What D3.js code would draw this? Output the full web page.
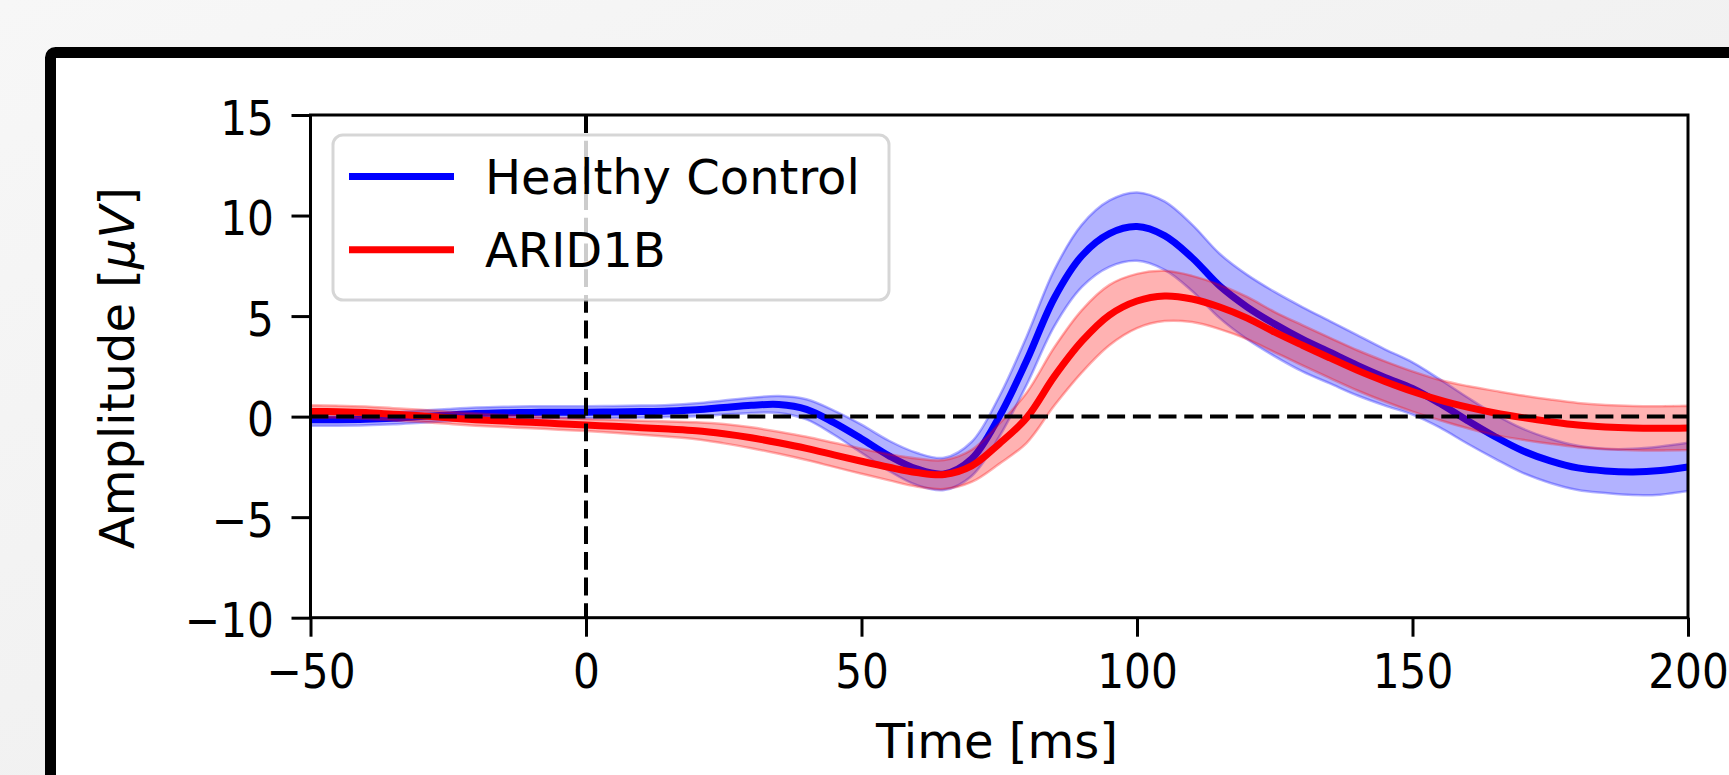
<!DOCTYPE html>
<html lang="en">
<head>
  <meta charset="UTF-8">
  <title>ERP: Healthy Control vs ARID1B</title>
  <script src="https://d3js.org/d3.v7.min.js"></script>
  <style>
    body { margin: 0; background: #f2f2f2; }
    svg { display: block; font-family: "DejaVu Sans", sans-serif; }
  </style>
</head>
<body>
  <div id="chart"></div>

  <script>
    // Time grid (ms) and series
    const times = [-50, -45, -40, -35, -30, -25, -20, -15, -10, -5, 0, 5, 10, 15, 20, 25, 30, 35, 40, 45,
      50, 55, 60, 65, 70, 75, 80, 85, 90, 95, 100, 105, 110, 115, 120, 125, 130, 135, 140, 145,
      150, 155, 160, 165, 170, 175, 180, 185, 190, 195, 200];

    const controlMean = [-0.15, -0.15, -0.13, -0.08, 0.0, 0.08, 0.15, 0.19, 0.21, 0.22, 0.22, 0.23, 0.25, 0.28, 0.34, 0.45, 0.56, 0.6, 0.36, -0.3,
      -1.1, -1.95, -2.6, -2.85, -2.1, 0.0, 2.8, 5.9, 8.0, 9.1, 9.45, 9.0, 7.9, 6.5, 5.45, 4.6, 3.85, 3.2, 2.55, 1.95,
      1.4, 0.65, -0.2, -1.0, -1.7, -2.2, -2.55, -2.7, -2.75, -2.68, -2.5];
    const controlErr = [0.3, 0.3, 0.3, 0.3, 0.3, 0.3, 0.3, 0.3, 0.3, 0.3, 0.3, 0.3, 0.3, 0.3, 0.32, 0.35, 0.38, 0.42, 0.5, 0.6,
      0.7, 0.75, 0.8, 0.8, 0.85, 1.0, 1.2, 1.4, 1.55, 1.65, 1.7, 1.7, 1.65, 1.6, 1.6, 1.6, 1.6, 1.55, 1.5, 1.4,
      1.3, 1.2, 1.15, 1.1, 1.1, 1.1, 1.1, 1.1, 1.15, 1.2, 1.2];

    const arid1bMean = [0.26, 0.24, 0.2, 0.12, 0.04, -0.06, -0.15, -0.22, -0.28, -0.35, -0.42, -0.48, -0.55, -0.62, -0.7, -0.85, -1.05, -1.3, -1.58, -1.9,
      -2.22, -2.52, -2.78, -2.88, -2.45, -1.35, -0.05, 2.0, 3.75, 5.05, 5.75, 6.0, 5.85, 5.45, 4.9, 4.2, 3.55, 2.92, 2.3, 1.75,
      1.25, 0.82, 0.47, 0.18, -0.05, -0.25, -0.42, -0.52, -0.57, -0.58, -0.56];
    const arid1bErr = [0.3, 0.3, 0.3, 0.3, 0.3, 0.3, 0.3, 0.3, 0.3, 0.3, 0.3, 0.32, 0.35, 0.38, 0.42, 0.48, 0.52, 0.55, 0.58, 0.6,
      0.62, 0.65, 0.7, 0.72, 0.8, 1.0, 1.25, 1.45, 1.55, 1.5, 1.35, 1.25, 1.15, 1.1, 1.05, 1.0, 1.0, 1.0, 1.0, 1.0,
      1.0, 1.0, 1.05, 1.1, 1.1, 1.1, 1.1, 1.1, 1.1, 1.1, 1.1];

    const seriesNames = ["Healthy Control", "ARID1B"];
    const seriesColors = ["#0000ff", "#ff0000"];

    const xTicks = [-50, 0, 50, 100, 150, 200];
    const xTickLabels = ["\u221250", "0", "50", "100", "150", "200"];
    const yTicks = [-10, -5, 0, 5, 10, 15];
    const yTickLabels = ["\u221210", "\u22125", "0", "5", "10", "15"];

    const width = 1729;
    const height = 775;
    const plot = { left: 310.5, right: 1688, top: 115, bottom: 617.7 };

    const svg = d3.select("#chart").append("svg")
      .attr("width", width)
      .attr("height", height);

    // page background + framed card
    const defs = svg.append("defs");
    const grad = defs.append("linearGradient").attr("id", "bg")
      .attr("x1", "0").attr("y1", "0").attr("x2", "1").attr("y2", "1");
    grad.append("stop").attr("offset", "0").attr("stop-color", "#f7f7f7");
    grad.append("stop").attr("offset", "1").attr("stop-color", "#ececec");
    defs.append("clipPath").attr("id", "plotClip")
      .append("rect")
      .attr("x", plot.left).attr("y", plot.top)
      .attr("width", plot.right - plot.left).attr("height", plot.bottom - plot.top);

    svg.append("rect").attr("width", width).attr("height", height).attr("fill", "url(#bg)");
    svg.append("rect")
      .attr("x", 50.5).attr("y", 52.5)
      .attr("width", 1760).attr("height", 800)
      .attr("rx", 5)
      .attr("fill", "#ffffff")
      .attr("stroke", "#000")
      .attr("stroke-width", 11);

    // scales
    const x = d3.scaleLinear().domain([-50, 200]).range([plot.left, plot.right]);
    const y = d3.scaleLinear().domain([-10, 15]).range([plot.bottom, plot.top]);

    const series = [
      { mean: controlMean, err: controlErr },
      { mean: arid1bMean, err: arid1bErr }
    ];

    const curve = d3.curveCatmullRom.alpha(0.5);

    const area = d3.area()
      .x((d, i) => x(times[i]))
      .y0(d => y(d.m - d.e))
      .y1(d => y(d.m + d.e))
      .curve(curve);

    const line = d3.line()
      .x((d, i) => x(times[i]))
      .y(d => y(d.m))
      .curve(curve);

    const plotG = svg.append("g").attr("clip-path", "url(#plotClip)");

    // band then mean line, per group
    series.forEach((s, k) => {
      const pts = s.mean.map((m, i) => ({ m: m, e: s.err[i] }));
      plotG.append("path")
        .datum(pts)
        .attr("d", area)
        .attr("fill", seriesColors[k])
        .attr("fill-opacity", 0.3)
        .attr("stroke", seriesColors[k])
        .attr("stroke-opacity", 0.3)
        .attr("stroke-width", 2.5);
      plotG.append("path")
        .datum(pts)
        .attr("d", line)
        .attr("fill", "none")
        .attr("stroke", seriesColors[k])
        .attr("stroke-width", 7);
    });

    // reference lines at 0 ms and 0 uV
    plotG.append("line")
      .attr("x1", plot.left).attr("x2", plot.right)
      .attr("y1", y(0)).attr("y2", y(0))
      .attr("stroke", "#000").attr("stroke-width", 4)
      .attr("stroke-dasharray", "17.9,7.8");
    plotG.append("line")
      .attr("x1", x(0)).attr("x2", x(0))
      .attr("y1", plot.top).attr("y2", plot.bottom)
      .attr("stroke", "#000").attr("stroke-width", 4)
      .attr("stroke-dasharray", "17.9,7.8");

    // axes
    const xAxis = svg.append("g")
      .attr("transform", `translate(0,${plot.bottom})`)
      .call(d3.axisBottom(x).tickValues(xTicks)
        .tickFormat((d, i) => xTickLabels[i]).tickSize(19));
    const yAxis = svg.append("g")
      .attr("transform", `translate(${plot.left},0)`)
      .call(d3.axisLeft(y).tickValues(yTicks)
        .tickFormat((d, i) => yTickLabels[i]).tickSize(19));

    [xAxis, yAxis].forEach(a => {
      a.select(".domain").remove();
      a.selectAll(".tick line").attr("stroke-width", 3);
      a.selectAll(".tick text")
        .attr("font-family", "DejaVu Sans")
        .attr("font-size", 48)
        .attr("fill", "#000");
    });
    xAxis.selectAll(".tick text")
      .attr("y", 70.3).attr("dy", 0)
      .attr("transform", "scale(0.88,1)");
    yAxis.selectAll(".tick text")
      .attr("x", -41.5).attr("dy", "0.4em")
      .attr("transform", "scale(0.88,1)");

    // spines
    svg.append("rect")
      .attr("x", plot.left).attr("y", plot.top)
      .attr("width", plot.right - plot.left).attr("height", plot.bottom - plot.top)
      .attr("fill", "none").attr("stroke", "#000").attr("stroke-width", 3);

    // axis titles
    svg.append("text")
      .attr("x", 997).attr("y", 758)
      .attr("text-anchor", "middle")
      .attr("font-size", 48)
      .text("Time [ms]");

    const yTitle = svg.append("text")
      .attr("transform", "translate(134,368) rotate(-90)")
      .attr("text-anchor", "middle")
      .attr("font-size", 48);
    yTitle.append("tspan").text("Amplitude [");
    yTitle.append("tspan").attr("font-style", "italic").text("\u03bcV");
    yTitle.append("tspan").text("]");

    // legend
    const legend = svg.append("g");
    legend.append("rect")
      .attr("x", 333).attr("y", 135)
      .attr("width", 556).attr("height", 165)
      .attr("rx", 10)
      .attr("fill", "#fff").attr("fill-opacity", 0.8)
      .attr("stroke", "#cccccc").attr("stroke-opacity", 0.8)
      .attr("stroke-width", 3);

    seriesNames.forEach((name, k) => {
      const ly = 176.5 + k * 73.3;
      legend.append("line")
        .attr("x1", 349).attr("x2", 454)
        .attr("y1", ly).attr("y2", ly)
        .attr("stroke", seriesColors[k])
        .attr("stroke-width", 7);
      legend.append("text")
        .attr("x", 485).attr("y", ly + 17.5)
        .attr("font-size", 48)
        .attr("fill", "#000")
        .text(name);
    });
  </script>
</body>
</html>
